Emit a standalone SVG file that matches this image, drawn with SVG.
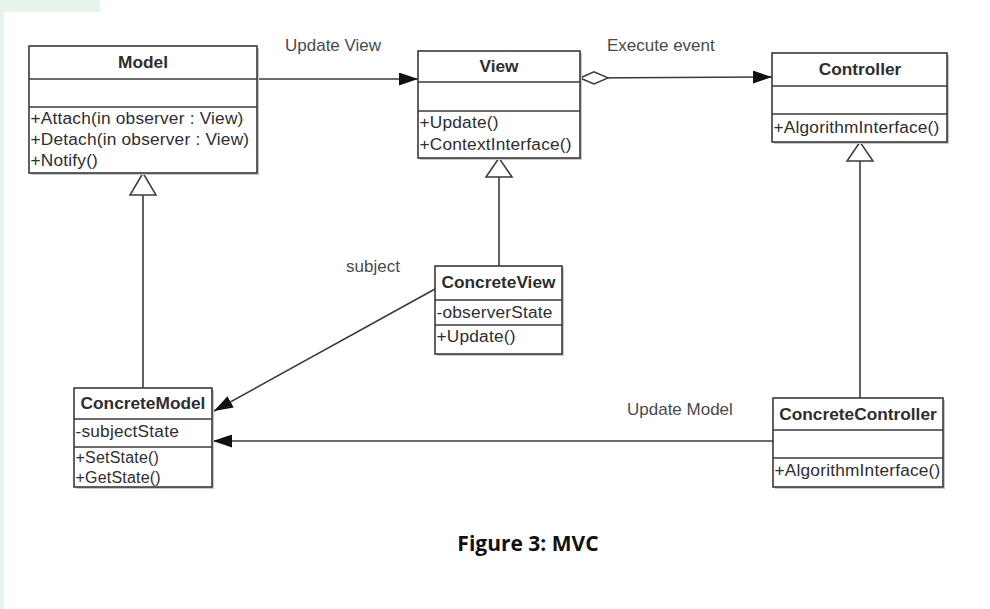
<svg xmlns="http://www.w3.org/2000/svg" width="990" height="609" viewBox="0 0 990 609">
<style>
.box{fill:#fff;stroke:#3a3a3a;stroke-width:1.6}
.shadow{fill:#c8c8c8}
.sep{stroke:#3a3a3a;stroke-width:1.5}
.t{font-family:"Liberation Sans",Arial,sans-serif;font-size:17.3px;fill:#2e2e2e;letter-spacing:0.2px}
.b{font-weight:bold;text-anchor:middle;letter-spacing:0}
.sm{font-size:16px}
.lbl{font-family:"Liberation Sans",Arial,sans-serif;font-size:17px;fill:#4a4a4a}
.con{stroke:#3a3a3a;stroke-width:1.6;fill:none}
</style>
<defs>
<marker id="arr" markerWidth="19" markerHeight="13" refX="19" refY="6.5" orient="auto" markerUnits="userSpaceOnUse">
<path d="M0,0 L19,6.5 L0,13 z" fill="#111"/>
</marker>
<marker id="dia" markerWidth="30" markerHeight="14" refX="1" refY="7" orient="auto" markerUnits="userSpaceOnUse">
<path d="M1,7 L15,1 L29,7 L15,13 z" fill="#fff" stroke="#3a3a3a" stroke-width="1.5"/>
</marker>
</defs>
<rect x="0" y="0" width="990" height="609" fill="#fff"/>
<rect x="0" y="0" width="100" height="12" fill="#e6f3ea"/>
<rect x="0" y="0" width="4" height="609" fill="#e6f3ea"/>

<g id="connectors">
<line class="con" x1="257" y1="79" x2="418" y2="79" marker-end="url(#arr)"/>
<line class="con" x1="580" y1="78" x2="772" y2="77" marker-start="url(#dia)" marker-end="url(#arr)"/>
<line class="con" x1="143" y1="388" x2="143" y2="195"/>
<path d="M143,173 L130,195 L156,195 z" fill="#fff" stroke="#3a3a3a" stroke-width="1.5"/>
<line class="con" x1="499" y1="266" x2="499" y2="177"/>
<path d="M499,158 L486,177 L512,177 z" fill="#fff" stroke="#3a3a3a" stroke-width="1.5"/>
<line class="con" x1="860" y1="398" x2="860" y2="161"/>
<path d="M860,142 L847,161 L873,161 z" fill="#fff" stroke="#3a3a3a" stroke-width="1.5"/>
<line class="con" x1="435" y1="289" x2="214" y2="411" marker-end="url(#arr)"/>
<line class="con" x1="773" y1="441" x2="213" y2="441" marker-end="url(#arr)"/>
<text class="lbl" x="285" y="51">Update View</text>
<text class="lbl" x="607" y="51">Execute event</text>
<text class="lbl" x="346" y="272">subject</text>
<text class="lbl" x="627" y="415">Update Model</text>
</g>

<g id="Model">
<rect class="shadow" x="31" y="48" width="228" height="127"/>
<rect class="box" x="29" y="46" width="228" height="127"/>
<line class="sep" x1="29" y1="79" x2="257" y2="79"/>
<line class="sep" x1="29" y1="107" x2="257" y2="107"/>
<text class="t b" x="143" y="68">Model</text>
<text class="t" x="30.5" y="124">+Attach(in observer : View)</text>
<text class="t" x="30.5" y="145">+Detach(in observer : View)</text>
<text class="t" x="30.5" y="166">+Notify()</text>
</g>

<g id="View">
<rect class="shadow" x="420" y="53" width="162" height="107"/>
<rect class="box" x="418" y="51" width="162" height="107"/>
<line class="sep" x1="418" y1="82" x2="580" y2="82"/>
<line class="sep" x1="418" y1="111" x2="580" y2="111"/>
<text class="t b" x="499" y="72">View</text>
<text class="t" x="419.5" y="128">+Update()</text>
<text class="t" x="419.5" y="150">+ContextInterface()</text>
</g>

<g id="Controller">
<rect class="shadow" x="774" y="55" width="175" height="89"/>
<rect class="box" x="772" y="53" width="175" height="89"/>
<line class="sep" x1="772" y1="86" x2="947" y2="86"/>
<line class="sep" x1="772" y1="114" x2="947" y2="114"/>
<text class="t b" x="860" y="75">Controller</text>
<text class="t" x="773.5" y="133">+AlgorithmInterface()</text>
</g>

<g id="ConcreteModel">
<rect class="shadow" x="76" y="390" width="138" height="99"/>
<rect class="box" x="74" y="388" width="138" height="99"/>
<line class="sep" x1="74" y1="419" x2="212" y2="419"/>
<line class="sep" x1="74" y1="447" x2="212" y2="447"/>
<text class="t b" x="143" y="409">ConcreteModel</text>
<text class="t" x="75.5" y="437">-subjectState</text>
<text class="t sm" x="75.5" y="463">+SetState()</text>
<text class="t sm" x="75.5" y="482.5">+GetState()</text>
</g>

<g id="ConcreteView">
<rect class="shadow" x="437" y="268" width="127" height="88"/>
<rect class="box" x="435" y="266" width="127" height="88"/>
<line class="sep" x1="435" y1="300" x2="562" y2="300"/>
<line class="sep" x1="435" y1="325" x2="562" y2="325"/>
<text class="t b" x="498.5" y="288">ConcreteView</text>
<text class="t" x="436.5" y="318">-observerState</text>
<text class="t" x="436.5" y="342">+Update()</text>
</g>

<g id="ConcreteController">
<rect class="shadow" x="775" y="400" width="170" height="89"/>
<rect class="box" x="773" y="398" width="170" height="89"/>
<line class="sep" x1="773" y1="430" x2="943" y2="430"/>
<line class="sep" x1="773" y1="458" x2="943" y2="458"/>
<text class="t b" x="858" y="420">ConcreteController</text>
<text class="t" x="774.5" y="476">+AlgorithmInterface()</text>
</g>

<text x="528" y="551" text-anchor="middle" font-family="'Open Sans','Liberation Sans',sans-serif" font-weight="bold" font-size="21" fill="#111">Figure 3: MVC</text>
</svg>
